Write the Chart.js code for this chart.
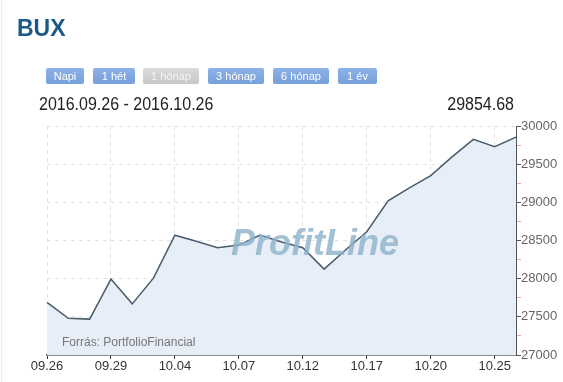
<!DOCTYPE html>
<html>
<head>
<meta charset="utf-8">
<script src="https://cdn.jsdelivr.net/npm/chart.js@4/dist/chart.umd.min.js"></script>
<style>
  body { margin: 0; background: #fff; font-family: Arial, "Liberation Sans", sans-serif; }
  #wrap { position: relative; width: 563px; height: 382px; overflow: hidden; }
  #wrap:before { content: ''; position: absolute; left: 1px; top: 0; width: 1px; height: 382px; background: #ececec; }
  #chart { position: absolute; left: 0; top: 0; }
  .title { position: absolute; left: 17px; top: 15px; font-size: 23px; font-weight: bold; color: #1b5a86; }
  .btn { position: absolute; top: 68px; height: 16px; line-height: 16px; font-size: 11px; color: #fff; text-align: center;
         background: linear-gradient(#8db2e6, #769fdb); border-radius: 2px; }
  .btn.off { background: linear-gradient(#dadada, #c8c8c8); color: #f4f4f4; }
  .range { position: absolute; left: 39px; top: 95px; font-size: 16px; color: #222; transform: scaleY(1.1); transform-origin: left top; }
  .last { position: absolute; right: 49px; top: 95px; font-size: 16px; color: #222; transform: scaleY(1.1); transform-origin: right top; }
  .wm { position: absolute; left: 231px; top: 222px; font-size: 36px; font-weight: bold; font-style: italic; color: rgba(140,178,203,0.8); }
  .src { position: absolute; left: 62px; top: 335px; font-size: 12px; color: #777; }
</style>
</head>
<body>
<div id="wrap">
  <canvas id="chart" width="563" height="382"></canvas>
  <div class="title">BUX</div>
  <div class="btn" style="left:46px;width:38px">Napi</div>
  <div class="btn" style="left:93px;width:42px">1 hét</div>
  <div class="btn off" style="left:143px;width:56px">1 hónap</div>
  <div class="btn" style="left:208px;width:56px">3 hónap</div>
  <div class="btn" style="left:273px;width:56px">6 hónap</div>
  <div class="btn" style="left:338px;width:39px">1 év</div>
  <div class="range">2016.09.26 - 2016.10.26</div>
  <div class="last">29854.68</div>
  <div class="wm">ProfitLine</div>
  <div class="src">Forrás: PortfolioFinancial</div>
</div>
<script>
// kereskedési napok
const dates = ['09.26', '09.27', '09.28', '09.29', '09.30', '10.03', '10.04', '10.05', '10.06', '10.07',
               '10.10', '10.11', '10.12', '10.13', '10.14', '10.17', '10.18', '10.19', '10.20', '10.21',
               '10.24', '10.25', '10.26'];
const shownDates = ['09.26', '09.29', '10.04', '10.07', '10.12', '10.17', '10.20', '10.25'];
const bux = [27690, 27480, 27470, 27995, 27670, 28010, 28570, 28490, 28405, 28440,
             28570, 28480, 28405, 28125, 28375, 28615, 29020, 29190, 29350, 29595,
             29825, 29730, 29854.68];
const yTicks = [27000, 27500, 28000, 28500, 29000, 29500, 30000];

const isShown = i => shownDates.includes(dates[i]);
const isMajor = v => yTicks.includes(v);

Chart.defaults.font.family = 'Arial, "Liberation Sans", sans-serif';

const ctx = document.getElementById('chart').getContext('2d');
const buxChart = new Chart(ctx, {
    type: 'line',
    data: {
        labels: dates,
        datasets: [{
            data: bux,
            borderColor: '#485c6c',
            borderWidth: 1.5,
            backgroundColor: '#e7eef7',
            fill: 'start',
            pointRadius: 0,
            tension: 0
        }]
    },
    options: {
        responsive: false,
        animation: false,
        devicePixelRatio: 1,
        layout: { padding: { left: 47, top: 126, right: 0, bottom: 0 } },
        plugins: { legend: { display: false }, tooltip: { enabled: false } },
        scales: {
            x: {
                offset: false,
                grid: {
                    color: c => isShown(c.index) ? '#e2e2e2' : 'rgba(0,0,0,0)',
                    tickColor: c => isShown(c.index) ? '#333' : 'rgba(0,0,0,0)',
                    tickLength: 4
                },
                border: { color: '#333', width: 1.5, dash: [4, 4] },
                ticks: {
                    autoSkip: false,
                    maxRotation: 0,
                    padding: 0,
                    color: '#333',
                    font: { size: 13 },
                    callback: (v, i) => isShown(i) ? dates[i] : ''
                },
                afterFit: s => { s.height = 27; }
            },
            y: {
                position: 'right',
                min: 27000,
                max: 30000,
                grid: {
                    color: c => isMajor(c.tick.value) ? '#e2e2e2' : 'rgba(0,0,0,0)',
                    tickColor: c => isMajor(c.tick.value) ? '#555' : '#e7a3b3',
                    tickLength: 5
                },
                border: { color: '#555', width: 1, dash: [4, 4] },
                ticks: {
                    stepSize: 250,
                    padding: 0,
                    color: '#666',
                    font: { size: 13 },
                    callback: v => isMajor(v) ? v : ''
                },
                afterFit: s => { s.width = 47; }
            }
        }
    }
});
</script>
</body>
</html>
